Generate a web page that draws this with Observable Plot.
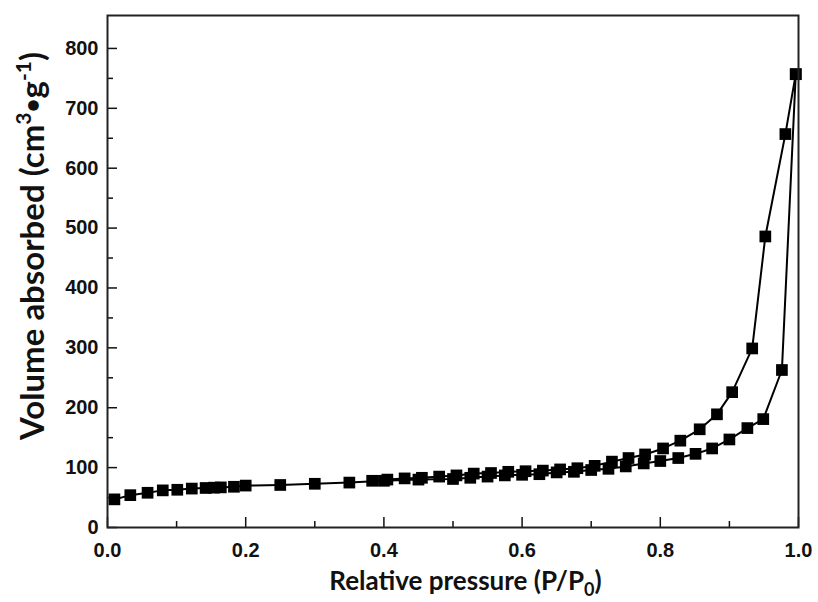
<!DOCTYPE html>
<html>
<head>
<meta charset="utf-8">
<script src="https://cdn.jsdelivr.net/npm/d3@7"></script>
<script src="https://cdn.jsdelivr.net/npm/@observablehq/plot@0.6"></script>
<style>
  html, body { margin: 0; padding: 0; background: #fff; }
</style>
</head>
<body>
<div id="chart"></div>
<script>
// Adsorption branch (lower)
const adsP = [0.010, 0.033, 0.058, 0.080, 0.101, 0.122, 0.142, 0.154, 0.164, 0.183, 0.200, 0.250, 0.300, 0.350, 0.400, 0.450, 0.500, 0.525, 0.550, 0.575, 0.600, 0.625, 0.650, 0.675, 0.700, 0.725, 0.750, 0.776, 0.800, 0.826, 0.851, 0.875, 0.900, 0.926, 0.949, 0.976, 0.996];
const adsV = [47, 54, 58, 62, 63, 65, 66, 66.5, 67, 68, 70, 71, 73, 75, 78, 80, 81, 83, 85, 87, 88, 89, 92, 93, 96, 98, 102, 107, 111, 116, 123, 132, 147, 166, 181, 263, 757];
// Desorption branch (upper)
const desP = [0.996, 0.981, 0.952, 0.933, 0.904, 0.882, 0.857, 0.829, 0.804, 0.778, 0.754, 0.730, 0.705, 0.680, 0.655, 0.630, 0.605, 0.580, 0.555, 0.530, 0.505, 0.480, 0.455, 0.430, 0.405, 0.383];
const desV = [757, 657, 486, 299, 226, 189, 164, 145, 132, 122, 116, 110, 103, 99, 97, 95, 94, 93, 91, 90, 87, 85, 83, 82, 80, 78];

const xTickLabels = [0, 0.2, 0.4, 0.6, 0.8, 1.0];
const xMinorTicks = [0.1, 0.3, 0.5, 0.7, 0.9];
const yTickLabels = [0, 100, 200, 300, 400, 500, 600, 700, 800];
const yMinorTicks = [50, 150, 250, 350, 450, 550, 650, 750];

const xTitle = ["Relative pressure (P/P", "0", ")"];
const yTitle = ["Volume absorbed (cm", "3", "\u2022", "g", "-1", ")"];

const W = 818, H = 602, mL = 107, mR = 20, mT = 15, mB = 75;
const plotW = W - mL - mR, plotH = H - mT - mB;

const ads = adsP.map((p, i) => ({p, v: adsV[i]}));
const des = desP.map((p, i) => ({p, v: desV[i]}));

const tickFont = {fontSize: 20, fontWeight: "bold", fill: "#111"};

const chart = Plot.plot({
  width: W, height: H,
  marginLeft: mL, marginRight: mR, marginTop: mT, marginBottom: mB,
  style: {fontFamily: "'Liberation Sans', Arial, sans-serif", background: "#fff"},
  x: {domain: [0, 1], label: null},
  y: {domain: [0, 855], label: null},
  marks: [
    Plot.axisX({ticks: xTickLabels, tickSize: 0, tickPadding: 15, tickFormat: d => d.toFixed(1), label: null, ...tickFont}),
    Plot.axisY({ticks: yTickLabels, tickSize: 0, tickPadding: 9, tickFormat: d => String(d), label: null, ...tickFont}),
    Plot.tickX(xTickLabels, {x: d => d, insetTop: plotH - 10, stroke: "#111", strokeWidth: 1.5}),
    Plot.tickX(xMinorTicks, {x: d => d, insetTop: plotH - 6, stroke: "#111", strokeWidth: 1.5}),
    Plot.tickY(yTickLabels, {y: d => d, insetRight: plotW - 10, stroke: "#111", strokeWidth: 1.5}),
    Plot.tickY(yMinorTicks, {y: d => d, insetRight: plotW - 6, stroke: "#111", strokeWidth: 1.5}),
    Plot.line(ads, {x: "p", y: "v", stroke: "#000", strokeWidth: 2}),
    Plot.line(des, {x: "p", y: "v", stroke: "#000", strokeWidth: 2}),
    Plot.dot(ads, {x: "p", y: "v", symbol: "square", r: 6.6, fill: "#000"}),
    Plot.dot(des, {x: "p", y: "v", symbol: "square", r: 6.6, fill: "#000"}),
    Plot.frame({stroke: "#222", strokeWidth: 2})
  ]
});

const svg = d3.select(chart);
const titleFont = "Lato, 'Open Sans', sans-serif";

// X axis title
const xt = svg.append("text")
  .attr("x", mL + plotW / 2 + 13)
  .attr("y", 590)
  .attr("text-anchor", "middle")
  .attr("font-family", titleFont)
  .attr("font-weight", 700)
  .attr("font-size", 26)
  .attr("fill", "#111");
xt.append("tspan").text(xTitle[0]);
xt.append("tspan").attr("font-size", 18).attr("dy", 6).text(xTitle[1]);
xt.append("tspan").attr("dy", -6).text(xTitle[2]);

// Y axis title
const yt = svg.append("text")
  .attr("transform", `translate(44,${246}) rotate(-90)`)
  .attr("text-anchor", "middle")
  .attr("font-family", titleFont)
  .attr("font-weight", 700)
  .attr("font-size", 33)
  .attr("fill", "#111");
yt.append("tspan").text(yTitle[0]);
yt.append("tspan").attr("font-size", 21).attr("dy", -13).text(yTitle[1]);
yt.append("tspan").attr("font-size", 24).attr("dy", 10).text(yTitle[2]);
yt.append("tspan").attr("dy", 3).text(yTitle[3]);
yt.append("tspan").attr("font-size", 21).attr("dy", -13).text(yTitle[4]);
yt.append("tspan").attr("dy", 13).text(yTitle[5]);

document.getElementById("chart").appendChild(chart);
</script>
</body>
</html>
